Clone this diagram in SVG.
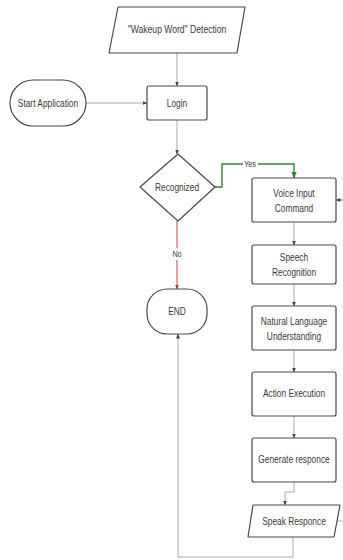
<svg xmlns="http://www.w3.org/2000/svg" width="343" height="560" viewBox="0 0 343 560">
<style>
.shape{fill:#fff;stroke:#4a4a4a;stroke-width:1.2}
.t{font-family:"Liberation Sans",Arial,sans-serif;font-size:11px;fill:#3a3a3a;text-anchor:middle;dominant-baseline:central}
.s{font-size:9px}
.c{fill:none;stroke:#aaa;stroke-width:1}
.g{fill:none;stroke:#2e8b2e;stroke-width:1.4}
.r{fill:none;stroke:#d04040;stroke-width:1}
</style>
<defs>
<marker id="a" viewBox="0 0 10 10" refX="9" refY="5" markerWidth="5" markerHeight="5" orient="auto"><path d="M0,1 L10,5 L0,9 z" fill="#444"/></marker>
<marker id="ag" viewBox="0 0 10 10" refX="9" refY="5" markerWidth="5" markerHeight="5" orient="auto"><path d="M0,1 L10,5 L0,9 z" fill="#2e8b2e"/></marker>
<marker id="ar" viewBox="0 0 10 10" refX="9" refY="5" markerWidth="5" markerHeight="5" orient="auto"><path d="M0,1 L10,5 L0,9 z" fill="#c03030"/></marker>
</defs>
<rect width="343" height="560" fill="#fff"/>
<g id="connectors">
<path class="c" d="M177,53 V86" marker-end="url(#a)"/>
<path class="c" d="M86,103 H147" marker-end="url(#a)"/>
<path class="c" d="M177,120 V154" marker-end="url(#a)"/>
<path class="g" d="M214,187 H222 V164 H294 V178" marker-end="url(#ag)"/>
<rect x="243" y="159" width="15" height="10" fill="#fff"/>
<text class="t s" transform="translate(250,164) scale(0.8,1)">Yes</text>
<path class="r" d="M177,221 V289" marker-end="url(#ar)"/>
<rect x="170" y="248" width="14" height="12" fill="#fff"/>
<text class="t s" transform="translate(177,254) scale(0.8,1)">No</text>
<path class="c" d="M294,222 V245" marker-end="url(#a)"/>
<path class="c" d="M294,284 V306" marker-end="url(#a)"/>
<path class="c" d="M294,350 V372" marker-end="url(#a)"/>
<path class="c" d="M294,416 V438" marker-end="url(#a)"/>
<path class="c" d="M294,482 V492 H285 V505" marker-end="url(#a)"/>
<path class="c" d="M293,537 V557 H178 V334" marker-end="url(#a)"/>
<path class="c" d="M337,521 H352 V200 H336" marker-end="url(#a)"/>
</g>
<g id="wakeup">
<path class="shape" d="M118,7 H245 L237,53 H109 Z" stroke-linejoin="round"/>
<text class="t" transform="translate(177,29) scale(0.78,1)">"Wakeup Word" Detection</text>
</g>
<g id="start">
<rect class="shape" x="10" y="80" width="76" height="46" rx="23"/>
<text class="t" transform="translate(48,103) scale(0.76,1)">Start Application</text>
</g>
<g id="login">
<rect class="shape" x="147" y="86" width="60" height="34" rx="2"/>
<text class="t" transform="translate(177,103) scale(0.76,1)">Login</text>
</g>
<g id="recognized">
<path class="shape" d="M178,154 L215,187 L178,221 L140,187 Z" stroke-linejoin="round"/>
<text class="t" transform="translate(177,187) scale(0.76,1)">Recognized</text>
</g>
<g id="end">
<rect class="shape" x="147" y="289" width="60" height="45" rx="20"/>
<text class="t" transform="translate(177,311) scale(0.76,1)">END</text>
</g>
<g id="voice">
<rect class="shape" x="252" y="178" width="84" height="44" rx="2"/>
<text class="t" transform="translate(294,193) scale(0.76,1)">Voice Input</text>
<text class="t" transform="translate(294,208) scale(0.76,1)">Command</text>
</g>
<g id="speech">
<rect class="shape" x="252" y="245" width="84" height="39" rx="2"/>
<text class="t" transform="translate(294,257) scale(0.76,1)">Speech</text>
<text class="t" transform="translate(294,272) scale(0.76,1)">Recognition</text>
</g>
<g id="nlu">
<rect class="shape" x="252" y="306" width="84" height="44" rx="2"/>
<text class="t" transform="translate(294,321) scale(0.76,1)">Natural Language</text>
<text class="t" transform="translate(294,336) scale(0.76,1)">Understanding</text>
</g>
<g id="action">
<rect class="shape" x="252" y="372" width="84" height="44" rx="2"/>
<text class="t" transform="translate(294,393) scale(0.76,1)">Action Execution</text>
</g>
<g id="generate">
<rect class="shape" x="252" y="438" width="84" height="44" rx="2"/>
<text class="t" transform="translate(294,459) scale(0.76,1)">Generate responce</text>
</g>
<g id="speak">
<path class="shape" d="M253,505 H340 L334,537 H248 Z" stroke-linejoin="round"/>
<text class="t" transform="translate(294,521) scale(0.76,1)">Speak Responce</text>
</g>
</svg>
